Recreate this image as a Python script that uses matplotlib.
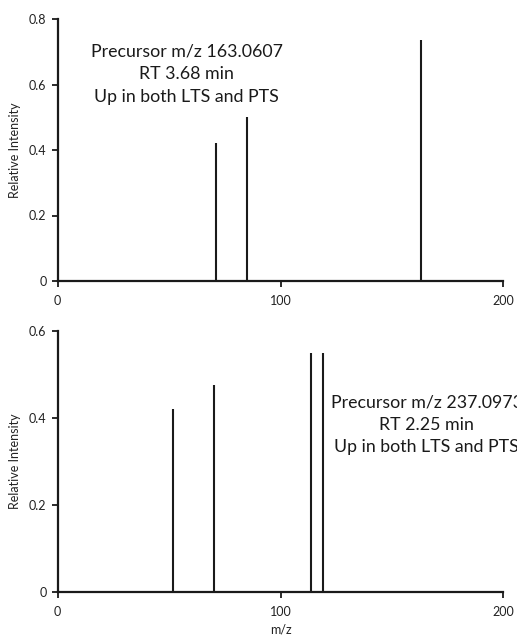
import matplotlib
matplotlib.use("Agg")
import matplotlib.pyplot as plt

plt.rcParams['font.family'] = ['Lato', 'DejaVu Sans']

# Top spectrum
mz_top = [71.0, 85.1, 163.1]
int_top = [0.42, 0.50, 0.735]
label_top = ["Precursor m/z 163.0607", "RT 3.68 min", "Up in both LTS and PTS"]

# Bottom spectrum
mz_bot = [51.9, 70.1, 113.5, 119.1]
int_bot = [0.42, 0.477, 0.549, 0.549]
label_bot = ["Precursor m/z 237.0973", "RT 2.25 min", "Up in both LTS and PTS"]

xticks = [0, 100, 200]
yticks_top = [0, 0.2, 0.4, 0.6, 0.8]
yticks_bot = [0, 0.2, 0.4, 0.6]

W, H = 517, 638
fig = plt.figure(figsize=(W / 100, H / 100), dpi=100)

def fr(x0, y0, x1, y1):
    return [x0 / W, 1 - y1 / H, (x1 - x0) / W, (y1 - y0) / H]

ax1 = fig.add_axes(fr(57.7, 19, 503.3, 281))
ax2 = fig.add_axes(fr(57.7, 331, 503.3, 592))

def style(ax, ymax, yticks):
    ax.set_xlim(0, 200)
    ax.set_ylim(0, ymax)
    ax.set_xticks(xticks)
    ax.set_xticklabels([str(t) for t in xticks])
    ax.set_yticks(yticks)
    ax.set_yticklabels(["0" if t == 0 else f"{t:.1f}" for t in yticks])
    for s in ["top", "right"]:
        ax.spines[s].set_visible(False)
    for s in ["left", "bottom"]:
        ax.spines[s].set_linewidth(1.6)
        ax.spines[s].set_color("#1a1a1a")
    ax.tick_params(axis="both", direction="out", length=4, width=1.3,
                   colors="#1a1a1a", labelsize=9, labelcolor="#222222")
    ax.tick_params(axis="x", pad=6)
    ax.tick_params(axis="y", pad=4)
    ax.set_ylabel("Relative Intensity", fontsize=9, color="#222222", labelpad=6)
    ax.set_facecolor("white")

style(ax1, 0.8, yticks_top)
style(ax2, 0.6, yticks_bot)

ax1.vlines(mz_top, 0, int_top, colors="#1a1a1a", linewidth=1.5)
ax2.vlines(mz_bot, 0, int_bot, colors="#1a1a1a", linewidth=1.5)

ax1.text(57.9, 0.632, "\n".join(label_top), ha="center", va="center",
         fontsize=12.8, color="#1a1a1a", linespacing=1.5)
ax2.text(165.6, 0.385, "\n".join(label_bot), ha="center", va="center",
         fontsize=12.8, color="#1a1a1a", linespacing=1.5, clip_on=False)

ax2.set_xlabel("m/z", fontsize=9, color="#222222", labelpad=4)

fig.savefig("out.png", dpi=100, facecolor="white")
